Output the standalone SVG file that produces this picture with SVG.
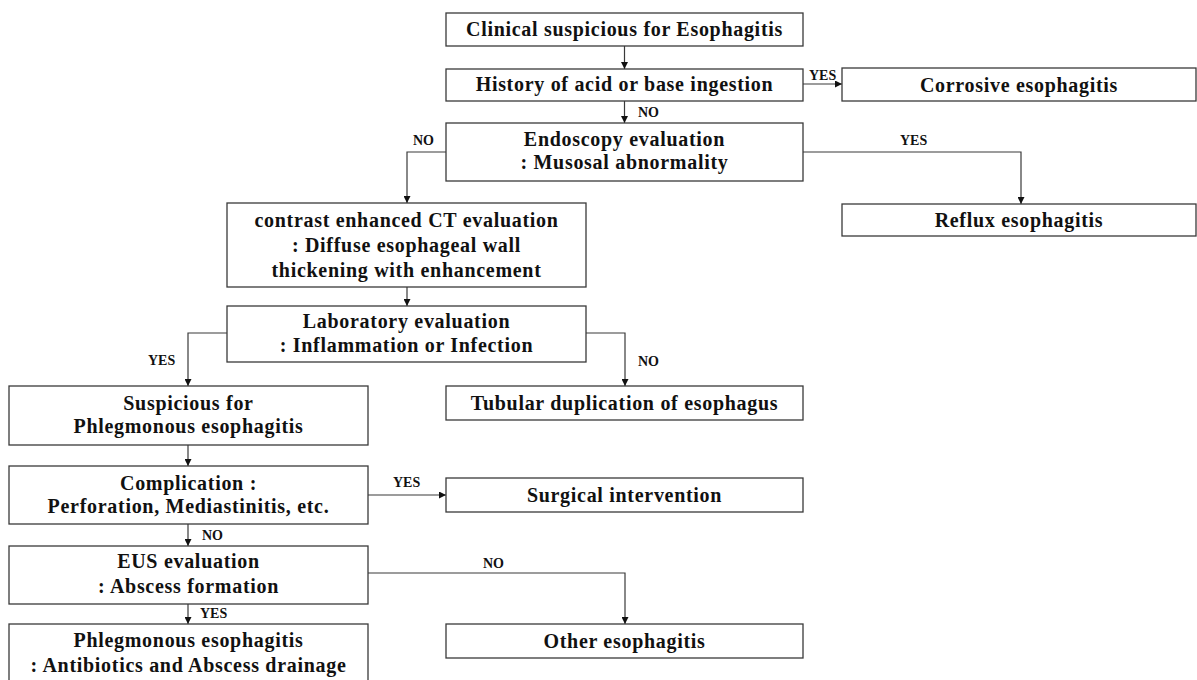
<svg xmlns="http://www.w3.org/2000/svg" width="1197" height="680" viewBox="0 0 1197 680">
<style>
.box{fill:#fff;stroke:#3a3a3a;stroke-width:1.3}
.t{font-family:"Liberation Serif","Times New Roman",serif;font-weight:bold;font-size:20px;letter-spacing:0.7px;fill:#111;text-anchor:middle}
.l{font-family:"Liberation Serif","Times New Roman",serif;font-weight:bold;font-size:14px;fill:#111}
.c{fill:none;stroke:#3a3a3a;stroke-width:1.2;marker-end:url(#ah)}
</style>
<defs>
<marker id="ah" viewBox="0 0 10 10" refX="10" refY="5" markerWidth="7" markerHeight="7" markerUnits="userSpaceOnUse" orient="auto">
<path d="M0,0 L10,5 L0,10 Z" fill="#111"/>
</marker>
</defs>
<rect width="1197" height="680" fill="#fff"/>
<g id="connectors">
<path class="c" d="M624.5,46 V69"/>
<path class="c" d="M803,84 H842"/>
<path class="c" d="M624.5,101 V123"/>
<path class="c" d="M446,152 H407 V203"/>
<path class="c" d="M803,152 H1021 V204"/>
<path class="c" d="M407,287 V306"/>
<path class="c" d="M227,333 H188 V386"/>
<path class="c" d="M586,333 H625 V386"/>
<path class="c" d="M188,445 V466"/>
<path class="c" d="M368,495 H446"/>
<path class="c" d="M188,524 V546"/>
<path class="c" d="M368,573 H625 V624"/>
<path class="c" d="M188,604 V624"/>
<text class="l" x="809" y="80">YES</text>
<text class="l" x="638" y="117">NO</text>
<text class="l" x="413" y="145">NO</text>
<text class="l" x="900" y="145">YES</text>
<text class="l" x="148" y="365">YES</text>
<text class="l" x="638" y="366">NO</text>
<text class="l" x="393" y="487">YES</text>
<text class="l" x="202" y="540">NO</text>
<text class="l" x="483" y="568">NO</text>
<text class="l" x="200" y="618">YES</text>
</g>
<g id="n1"><rect class="box" x="446" y="13" width="357" height="33"/><text class="t" x="624.5" y="36">Clinical suspicious for Esophagitis</text></g>
<g id="n2"><rect class="box" x="446" y="69" width="357" height="32"/><text class="t" x="624.5" y="91">History of acid or base ingestion</text></g>
<g id="n3"><rect class="box" x="842" y="68" width="354" height="33"/><text class="t" x="1019" y="92">Corrosive esophagitis</text></g>
<g id="n4"><rect class="box" x="446" y="123" width="357" height="58"/><text class="t" x="624.5" y="146">Endoscopy evaluation</text><text class="t" x="624.5" y="169">: Musosal abnormality</text></g>
<g id="n5"><rect class="box" x="842" y="204" width="354" height="32"/><text class="t" x="1019" y="227">Reflux esophagitis</text></g>
<g id="n6"><rect class="box" x="227" y="203" width="359" height="84"/><text class="t" x="406.5" y="227">contrast enhanced CT evaluation</text><text class="t" x="406.5" y="252">: Diffuse esophageal wall</text><text class="t" x="406.5" y="277">thickening with enhancement</text></g>
<g id="n7"><rect class="box" x="227" y="306" width="359" height="56"/><text class="t" x="406.5" y="328">Laboratory evaluation</text><text class="t" x="406.5" y="352">: Inflammation or Infection</text></g>
<g id="n8"><rect class="box" x="9" y="386" width="359" height="59"/><text class="t" x="188.5" y="410">Suspicious for</text><text class="t" x="188.5" y="433">Phlegmonous esophagitis</text></g>
<g id="n9"><rect class="box" x="446" y="386" width="357" height="34"/><text class="t" x="624.5" y="410">Tubular duplication of esophagus</text></g>
<g id="n10"><rect class="box" x="9" y="466" width="359" height="58"/><text class="t" x="188.5" y="490">Complication :</text><text class="t" x="188.5" y="513">Perforation, Mediastinitis, etc.</text></g>
<g id="n11"><rect class="box" x="446" y="478" width="357" height="34"/><text class="t" x="624.5" y="502">Surgical intervention</text></g>
<g id="n12"><rect class="box" x="9" y="546" width="359" height="58"/><text class="t" x="188.5" y="568">EUS evaluation</text><text class="t" x="188.5" y="593">: Abscess formation</text></g>
<g id="n13"><rect class="box" x="9" y="624" width="359" height="60"/><text class="t" x="188.5" y="647">Phlegmonous esophagitis</text><text class="t" x="188.5" y="672">: Antibiotics and Abscess drainage</text></g>
<g id="n14"><rect class="box" x="446" y="624" width="357" height="34"/><text class="t" x="624.5" y="648">Other esophagitis</text></g>
</svg>
